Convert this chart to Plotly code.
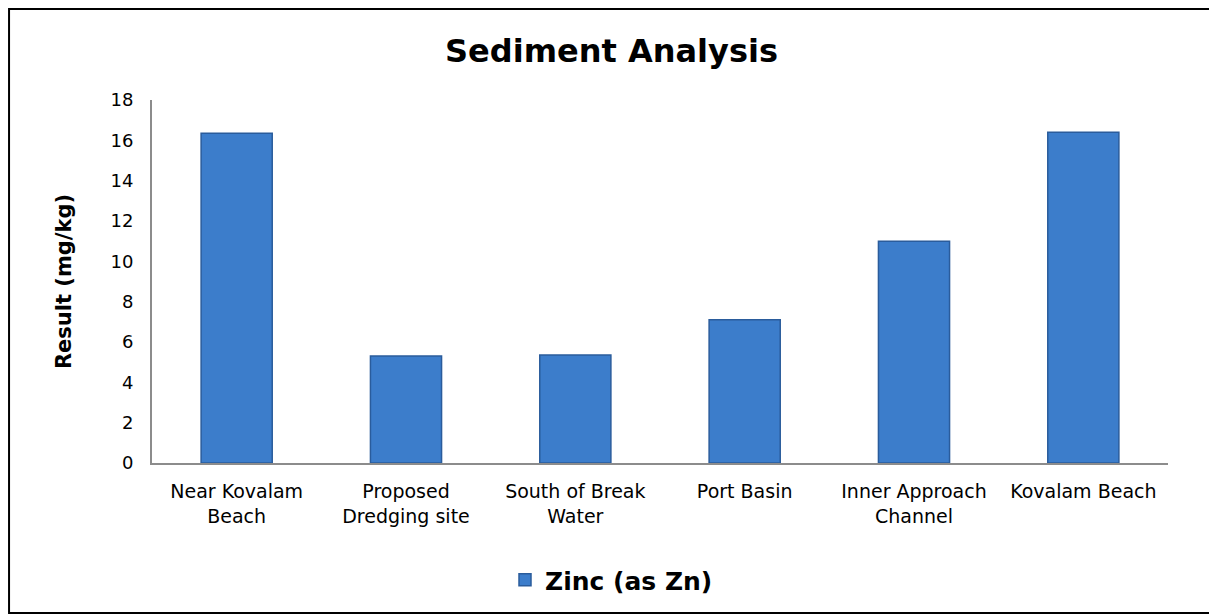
import plotly.graph_objects as go

# Data
sites = ["Near Kovalam<br>Beach", "Proposed<br>Dredging site", "South of Break<br>Water",
         "Port Basin", "Inner Approach<br>Channel", "Kovalam Beach"]
zinc = [16.35, 5.3, 5.35, 7.1, 11.0, 16.4]
y_ticks = [0, 2, 4, 6, 8, 10, 12, 14, 16, 18]

fig = go.Figure()

fig.add_trace(go.Bar(
    x=sites,
    y=zinc,
    name="<b>Zinc (as Zn)</b>",
    marker=dict(color="#3C7DCB", line=dict(color="#2A5C9C", width=1.5)),
))

# outer chart border (Excel style frame)
fig.add_shape(type="rect", xref="paper", yref="paper",
              x0=-0.1407, x1=1.0443, y0=-0.4132, y1=1.2507,
              line=dict(color="black", width=2), layer="below")

fig.update_layout(
    width=1207, height=606,
    margin=dict(l=144, r=47, t=92, b=151),
    paper_bgcolor="white",
    plot_bgcolor="white",
    bargap=0.58,
    title=dict(text="<b>Sediment Analysis</b>", x=0.5, xref="container",
               y=0.93, yanchor="middle",
               font=dict(family="DejaVu Sans", size=32, color="black")),
    font=dict(family="DejaVu Sans", color="black"),
    showlegend=True,
    legend=dict(orientation="h", x=0.5, xanchor="center", xref="container",
                y=0.056, yanchor="middle", yref="container",
                font=dict(family="DejaVu Sans", size=25, color="black"),
                itemwidth=30),
    xaxis=dict(
        showline=True, linecolor="#8c8c8c", linewidth=2,
        ticks="", ticklabelstandoff=10,
        tickfont=dict(family="DejaVu Sans", size=19, color="black"),
        showgrid=False,
    ),
    yaxis=dict(
        range=[0, 18], tickvals=y_ticks,
        showline=True, linecolor="#8c8c8c", linewidth=2,
        ticks="", ticklabelstandoff=13,
        tickfont=dict(family="DejaVu Sans", size=18, color="black"),
        showgrid=False, zeroline=False,
        title=dict(text="<b>Result (mg/kg)</b>", standoff=33,
                   font=dict(family="DejaVu Sans", size=21, color="black")),
    ),
)

fig.write_html("out.html")
